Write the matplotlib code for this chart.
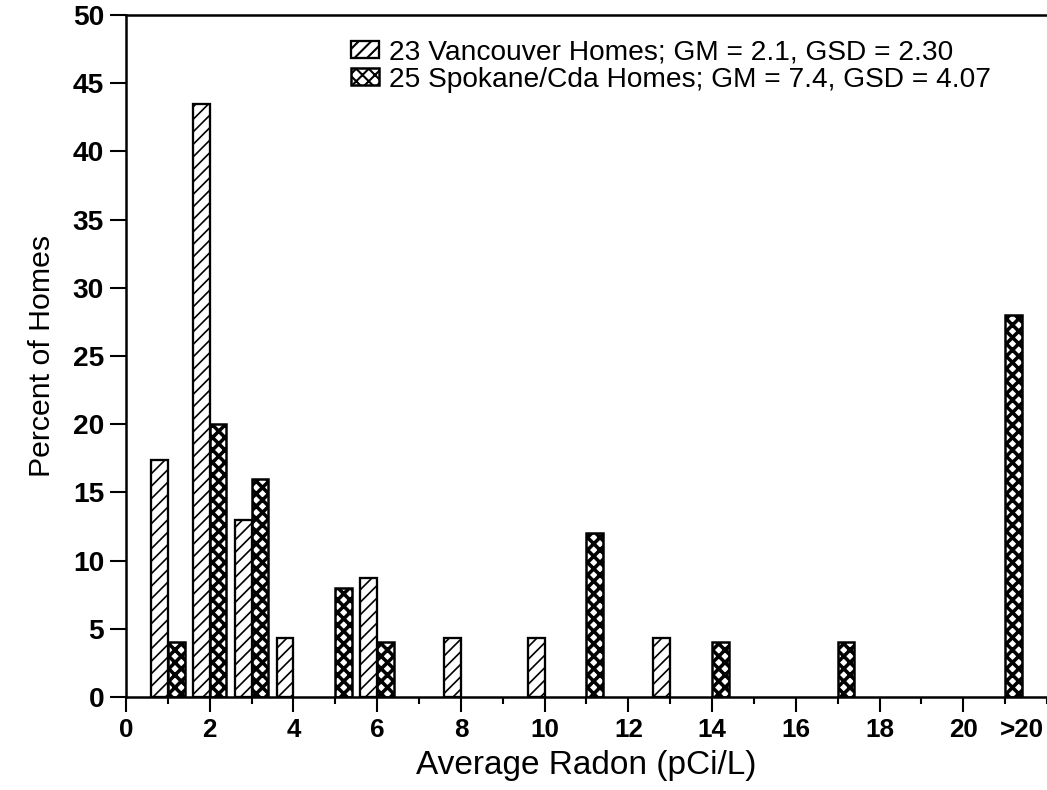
import matplotlib
matplotlib.use("Agg")
import matplotlib.pyplot as plt
from matplotlib.ticker import MultipleLocator

plt.rcParams['font.family'] = ['Liberation Sans', 'DejaVu Sans']
plt.rcParams['hatch.color'] = 'black'

# radon bins (pCi/L) and percent of homes in each bin
van_bins = [1, 2, 3, 4, 6, 8, 10, 13]
van_pct = [17.4, 43.5, 13.0, 4.3, 8.7, 4.3, 4.3, 4.3]
spo_bins = [1, 2, 3, 5, 6, 11, 14, 17, 21]
spo_pct = [4, 20, 16, 8, 4, 12, 4, 4, 28]

van_label = "23 Vancouver Homes; GM = 2.1, GSD = 2.30"
spo_label = "25 Spokane/Cda Homes; GM = 7.4, GSD = 4.07"

xtick_pos = [0, 2, 4, 6, 8, 10, 12, 14, 16, 18, 20, 21.4]
xtick_lab = ["0", "2", "4", "6", "8", "10", "12", "14", "16", "18", "20", ">20"]
yticks = list(range(0, 55, 5))

fig = plt.figure(figsize=(1047 / 150, 790 / 150), dpi=150)
ax = fig.add_axes([0.1203, 0.1177, 0.8797, 0.8633])

def set_hatch_lw(bars, lw):
    for b in bars:
        if hasattr(b, "set_hatch_linewidth"):
            b.set_hatch_linewidth(lw)

vb = ax.bar(van_bins, van_pct, width=-0.4, align='edge', facecolor='white',
            edgecolor='black', linewidth=1.1, hatch='////', label=van_label)
sb = ax.bar(spo_bins, spo_pct, width=0.4, align='edge', facecolor='white',
            edgecolor='black', linewidth=1.2, hatch='xxxx', label=spo_label)
set_hatch_lw(vb, 0.8)
set_hatch_lw(sb, 1.7)

ax.set_xlim(0, 22)
ax.set_ylim(0, 50)
ax.set_xticks(xtick_pos)
ax.set_xticklabels(xtick_lab)
ax.xaxis.set_minor_locator(MultipleLocator(1))
ax.set_yticks(yticks)

ax.spines['right'].set_visible(False)
for s in ['left', 'bottom', 'top']:
    ax.spines[s].set_linewidth(1.2)

ax.tick_params(axis='both', which='major', direction='out', width=1.0, pad=3)
ax.tick_params(axis='x', which='major', length=7, labelsize=12.5)
ax.tick_params(axis='y', which='major', length=7.5, labelsize=13.5)
ax.tick_params(axis='x', which='minor', direction='out', length=3.5, width=1.0)
ax.xaxis.get_major_ticks()[-1].tick1line.set_visible(False)
for t in ax.get_xticklabels() + ax.get_yticklabels():
    t.set_fontweight('bold')

ax.set_xlabel("Average Radon (pCi/L)", fontsize=16, labelpad=4)
ax.set_ylabel("Percent of Homes", fontsize=14.5, labelpad=8)

leg = ax.legend(loc='upper left', bbox_to_anchor=(0.335, 0.95),
                bbox_transform=fig.transFigure, frameon=False, fontsize=13.5,
                handlelength=1.0, handleheight=0.55, handletextpad=0.35,
                labelspacing=0.05, borderaxespad=0, borderpad=0)

fig.savefig("out.png", dpi=150)
